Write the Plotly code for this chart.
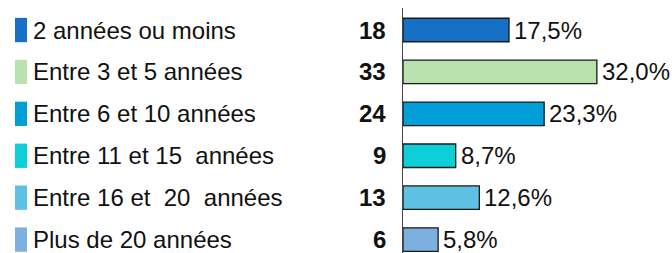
import plotly.graph_objects as go

categories = ["2 années ou moins", "Entre 3 et 5 années", "Entre 6 et 10 années",
              "Entre 11 et 15  années", "Entre 16 et  20  années", "Plus de 20 années"]
counts = [18, 33, 24, 9, 13, 6]
percents = [17.5, 32.0, 23.3, 8.7, 12.6, 5.8]
pct_labels = ["17,5%", "32,0%", "23,3%", "8,7%", "12,6%", "5,8%"]
colors = ["#1670C6", "#B9E2AE", "#009FD8", "#0CCFD8", "#5EC1E4", "#7BB0DF"]

W, H = 672, 253
idx = list(range(len(categories)))
FONT = "Liberation Sans, Arial, sans-serif"

fig = go.Figure()
fig.add_trace(go.Bar(
    x=percents, y=idx, orientation="h",
    marker=dict(color=colors, line=dict(color="#1a1a1a", width=1.3)),
    width=0.56, hoverinfo="skip",
))

annotations = []
shapes = []
for i, (cat, c, col, p, pl) in enumerate(zip(categories, counts, colors, percents, pct_labels)):
    annotations.append(dict(x=31 / W, y=i, xref="paper", yref="y", text=cat,
                            showarrow=False, xanchor="left", yanchor="middle",
                            font=dict(family=FONT, size=24, color="#111")))
    annotations.append(dict(x=388 / W, y=i, xref="paper", yref="y", text="<b>%d</b>" % c,
                            showarrow=False, xanchor="right", yanchor="middle",
                            font=dict(family=FONT, size=24, color="#111")))
    annotations.append(dict(x=p, y=i, xref="x", yref="y", text=pl, xshift=3,
                            showarrow=False, xanchor="left", yanchor="middle",
                            font=dict(family=FONT, size=24, color="#111")))
    shapes.append(dict(type="rect", xref="paper", yref="y", x0=15 / W, x1=27 / W,
                       y0=i - 0.29, y1=i + 0.29, fillcolor=col, line=dict(width=0)))

fig.update_layout(
    width=W, height=H, margin=dict(l=0, r=0, t=0, b=0),
    paper_bgcolor="white", plot_bgcolor="white",
    showlegend=False, bargap=0.44,
    xaxis=dict(domain=[403 / W, 1], range=[0, 44.4], visible=False),
    yaxis=dict(domain=[0, 245 / H], range=[5.32, -0.525], showticklabels=False,
               showgrid=False, zeroline=False, showline=True, linecolor="#444",
               linewidth=1.3, ticks=""),
    annotations=annotations, shapes=shapes,
)
fig.write_html("out.html", config={"displayModeBar": False},
               post_script="document.body.style.margin='0px';document.body.style.overflow='hidden';")
